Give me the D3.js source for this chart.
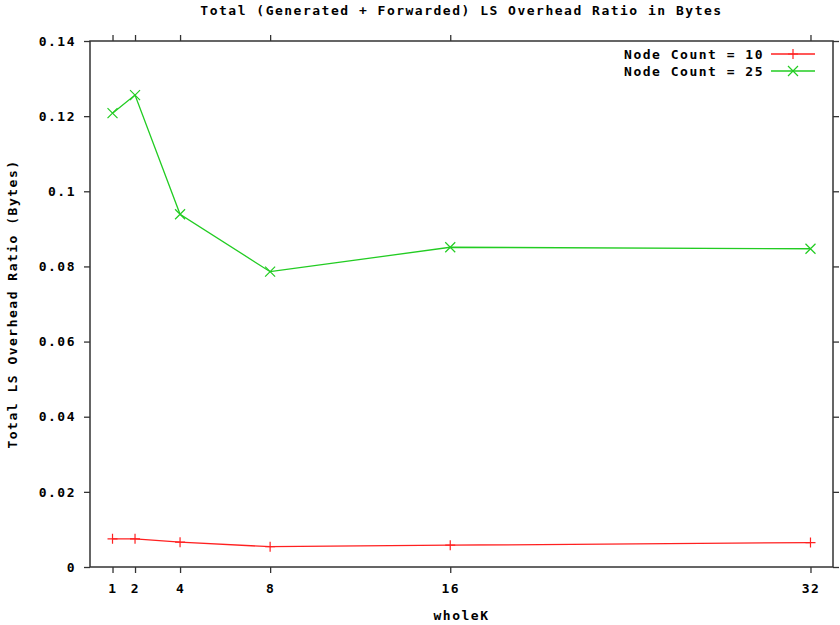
<!DOCTYPE html>
<html>
<head>
<meta charset="utf-8">
<script src="https://cdn.jsdelivr.net/npm/d3@7"></script>
<style>
  body { margin: 0; background: #fff; }
  text { font-family: "DejaVu Sans Mono", monospace; font-weight: bold; font-size: 13px; letter-spacing: 1.5px; fill: #000; }
</style>
</head>
<body>
<div id="chart"></div>
<script>
// data
var wholeK = [1, 2, 4, 8, 16, 32];
var node10 = [0.0075, 0.0075, 0.0066, 0.0054, 0.0058, 0.0065];
var node25 = [0.1208, 0.1256, 0.0939, 0.0786, 0.0851, 0.0847];
var xTicks = [1, 2, 4, 8, 16, 32];
var yTicks = [0, 0.02, 0.04, 0.06, 0.08, 0.1, 0.12, 0.14];
var seriesNames = ["Node Count = 10", "Node Count = 25"];

var svgWidth = 840;
var svgHeight = 625;
var margin = { top: 41, right: 7, bottom: 58, left: 90 };
var width = svgWidth - margin.left - margin.right;
var height = svgHeight - margin.top - margin.bottom;

var svg = d3.select("#chart")
  .append("svg")
  .attr("width", svgWidth)
  .attr("height", svgHeight);

var chartGroup = svg.append("g")
  .attr("transform", `translate(${margin.left}, ${margin.top})`);

var xScale = d3.scaleLinear().domain([0, 33]).range([0, width]);
var yScale = d3.scaleLinear().domain([0, 0.14]).range([height, 0]);

function fmt(d) { return d === 0 ? "0" : String(d); }

// axes on all four sides, ticks pointing out like gnuplot
var bottomAxis = d3.axisBottom(xScale).tickValues(xTicks).tickSize(6).tickPadding(11).tickFormat(d => d);
var topAxis = d3.axisTop(xScale).tickValues(xTicks).tickSize(6).tickFormat("");
var leftAxis = d3.axisLeft(yScale).tickValues(yTicks).tickSize(6).tickPadding(8).tickFormat(fmt);
var rightAxis = d3.axisRight(yScale).tickValues(yTicks).tickSize(6).tickFormat("");

function styleAxis(g) {
  g.select(".domain").remove();
  g.selectAll("line").attr("stroke", "#333").attr("stroke-width", 1.3);
  g.selectAll("text").attr("font-family", null).attr("font-size", null);
}

chartGroup.append("g").attr("transform", `translate(0, ${height})`).call(bottomAxis).call(styleAxis);
chartGroup.append("g").call(topAxis).call(styleAxis);
chartGroup.append("g").call(leftAxis).call(styleAxis);
chartGroup.append("g").attr("transform", `translate(${width}, 0)`).call(rightAxis).call(styleAxis);

chartGroup.append("rect")
  .attr("width", width)
  .attr("height", height)
  .attr("fill", "none")
  .attr("stroke", "#333")
  .attr("stroke-width", 1.5);

// series
var series = [
  { name: seriesNames[0], values: node10, color: "#ff2020", marker: "plus" },
  { name: seriesNames[1], values: node25, color: "#22cc22", marker: "cross" }
];

var line = d3.line()
  .x((d, i) => xScale(wholeK[i]))
  .y(d => yScale(d));

function markerPath(type, x, y) {
  var s = 5;
  if (type === "plus") return `M${x - s},${y}H${x + s}M${x},${y - s}V${y + s}`;
  return `M${x - s},${y - s}L${x + s},${y + s}M${x - s},${y + s}L${x + s},${y - s}`;
}

series.forEach(function(s) {
  chartGroup.append("path")
    .datum(s.values)
    .attr("d", line)
    .attr("fill", "none")
    .attr("stroke", s.color)
    .attr("stroke-width", 1.3);

  chartGroup.selectAll(null)
    .data(s.values)
    .enter()
    .append("path")
    .attr("d", (d, i) => markerPath(s.marker, xScale(wholeK[i]), yScale(d)))
    .attr("stroke", s.color)
    .attr("stroke-width", 1.2)
    .attr("fill", "none");
});

// legend
var legend = chartGroup.append("g").attr("transform", `translate(${width - 18}, 13)`);
series.forEach(function(s, i) {
  var row = legend.append("g").attr("transform", `translate(0, ${i * 17})`);
  row.append("text")
    .attr("x", -51)
    .attr("y", 5)
    .attr("text-anchor", "end")
    .text(s.name);
  row.append("line")
    .attr("x1", -44).attr("x2", 0)
    .attr("y1", 0).attr("y2", 0)
    .attr("stroke", s.color)
    .attr("stroke-width", 1.3);
  row.append("path")
    .attr("d", markerPath(s.marker, -22, 0))
    .attr("stroke", s.color)
    .attr("stroke-width", 1.2);
});

// title and axis labels
svg.append("text")
  .attr("x", margin.left + width / 2)
  .attr("y", 15)
  .attr("text-anchor", "middle")
  .style("letter-spacing", "1.5px")
  .text("Total (Generated + Forwarded) LS Overhead Ratio in Bytes");

svg.append("text")
  .attr("x", margin.left + width / 2)
  .attr("y", 620)
  .attr("text-anchor", "middle")
  .text("wholeK");

svg.append("text")
  .attr("transform", "rotate(-90)")
  .attr("x", -(margin.top + height / 2))
  .attr("y", 17)
  .attr("text-anchor", "middle")
  .text("Total LS Overhead Ratio (Bytes)");
</script>
</body>
</html>
